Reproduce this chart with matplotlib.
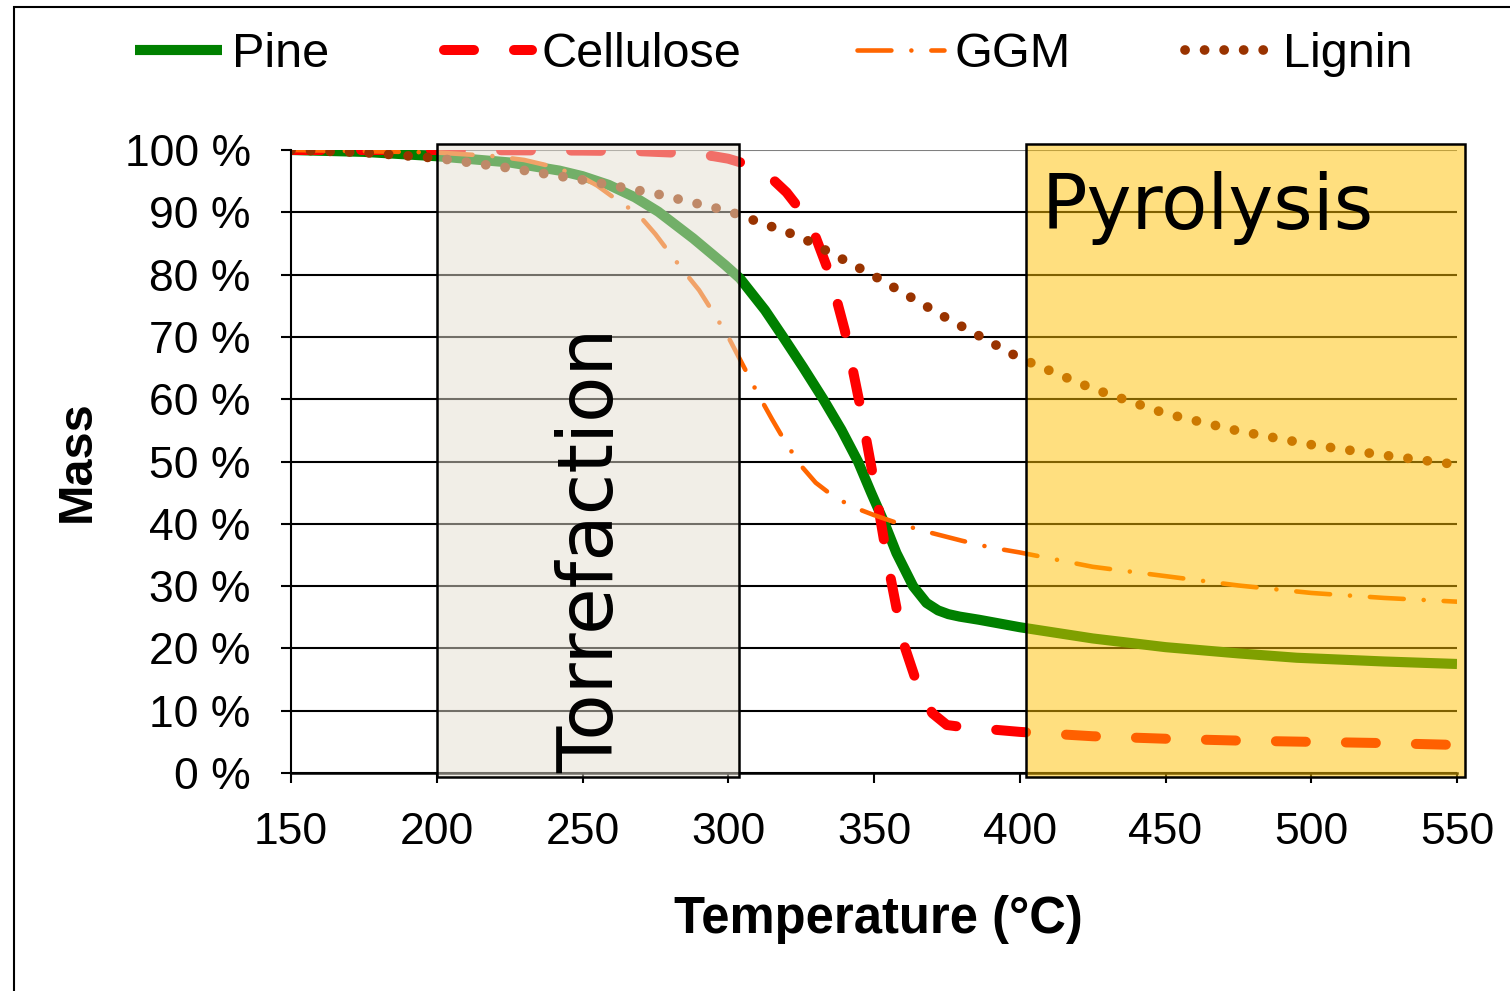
import matplotlib
matplotlib.use('Agg')
import matplotlib.pyplot as plt
from matplotlib.patches import Rectangle

# mass loss curves (temperature in deg C, mass in %)
pine_t = [150, 175, 200, 225, 242, 250, 259, 268, 276, 288, 299, 304, 312.6, 318.8, 325.7, 332.6,
          338.8, 344.5, 349.1, 353.7, 357.7, 363.4, 368, 372, 375.5, 379.4, 386, 400, 425, 450, 475,
          495, 525, 550]
pine_m = [100, 99.7, 99.0, 98.0, 96.7, 95.8, 94.4, 92.4, 90.1, 85.8, 81.5, 79.4, 74.3, 70.0, 65.1, 60.0,
          55.1, 50.0, 44.9, 40.0, 35.3, 30.0, 27.3, 26.1, 25.5, 25.1, 24.6, 23.4, 21.6, 20.2, 19.2,
          18.5, 17.9, 17.5]

cell_t = [150, 200, 250, 270, 280, 290, 295, 300, 305, 310, 315, 320, 325, 330, 335, 340,
          345, 350, 355, 360, 365, 370, 375, 380, 390, 400, 425, 450, 475, 500, 525, 550]
cell_m = [100, 100, 99.9, 99.8, 99.6, 99.3, 99.0, 98.6, 97.9, 96.9, 95.4, 93.2, 90.2, 86.0, 79.8, 71.0,
          59.5, 46.8, 33.0, 21.0, 14.0, 9.6, 7.7, 7.4, 7.0, 6.6, 5.9, 5.5, 5.2, 5.0, 4.8, 4.5]

ggm_t = [150, 200, 220, 230, 240, 250, 255, 260, 265, 270, 275, 280, 285, 290, 295, 300, 305,
         310, 315, 320, 325, 330, 335, 340, 345, 350, 360, 370, 380, 390, 400, 425, 450, 475,
         500, 525, 550]
ggm_m = [100, 99.6, 99.0, 98.4, 97.3, 95.6, 94.3, 92.6, 91.0, 89.2, 86.5, 83.4, 80.4, 77.5, 73.8, 70.0, 65.5,
         61.0, 56.8, 52.8, 49.3, 46.6, 44.8, 43.4, 42.3, 41.4, 39.8, 38.5, 37.3, 36.2, 35.4, 33.1, 31.6, 30.1,
         28.9, 28.1, 27.5]

lig_t = [150, 175, 200, 225, 250, 275, 300, 325, 350, 375, 400, 425, 450, 475, 500, 525, 550]
lig_m = [100, 99.6, 98.7, 97.1, 95.2, 93.0, 90.2, 86.0, 79.8, 73.0, 66.6, 61.7, 57.7, 54.9, 52.7, 51.0, 49.5]

x_ticks = [150, 200, 250, 300, 350, 400, 450, 500, 550]
y_ticks = [0, 10, 20, 30, 40, 50, 60, 70, 80, 90, 100]
y_labels = [f'{v} %' for v in y_ticks]

# temperature windows
torr_range = (200.1, 303.6)
pyro_range = (402.0, 552.7)

W, H = 1510, 991
plt.rcParams['font.family'] = ['Liberation Sans', 'DejaVu Sans']

fig = plt.figure(figsize=(W / 100, H / 100), dpi=100)
ax = fig.add_axes([291 / W, 1 - 773 / H, (1457 - 291) / W, (773 - 150) / H])

# curves
l_pine, = ax.plot(pine_t, pine_m, color='#008000', lw=7.3, zorder=2,
                  solid_capstyle='butt', solid_joinstyle='round', label='Pine')
l_cell, = ax.plot(cell_t, cell_m, color='#FF0000', lw=7.2, zorder=2,
                  linestyle=(0, (3.0, 4.0)), dash_capstyle='round', label='Cellulose')
l_ggm, = ax.plot(ggm_t, ggm_m, color='#FF6600', lw=3.3, zorder=2,
                 linestyle=(0, (7.4, 4.35, 0.01, 4.35)), dash_capstyle='round', label='GGM')
l_lig, = ax.plot(lig_t, lig_m, color='#993300', lw=7.0, zorder=2,
                 linestyle=(0, (0.01, 2.0)), dash_capstyle='round', label='Lignin')

# shaded regions drawn on top of the curves
ax.add_patch(Rectangle((torr_range[0], -0.7), torr_range[1] - torr_range[0], 101.7,
                       facecolor=(229 / 255, 223 / 255, 209 / 255, 0.5), edgecolor='black',
                       lw=1.8, zorder=3, clip_on=False))
ax.add_patch(Rectangle((pyro_range[0], -0.7), pyro_range[1] - pyro_range[0], 101.7,
                       facecolor=(1, 192 / 255, 0, 0.5), edgecolor='black',
                       lw=1.8, zorder=3, clip_on=False))

ax.text((torr_range[0] + torr_range[1]) / 2 + 1.5, 35.8, 'Torrefaction', rotation=90,
        ha='center', va='center', fontsize=54.5, family='DejaVu Sans', zorder=4)
ax.text(407.5, 87.3, 'Pyrolysis', ha='left', va='baseline', fontsize=54.5,
        family='DejaVu Sans', zorder=4)

ax.set_xlim(150, 550)
ax.set_ylim(0, 100)
ax.set_xticks(x_ticks)
ax.set_yticks(y_ticks)
ax.set_yticklabels(y_labels)

ax.yaxis.grid(True, color='black', lw=1.5, zorder=0.5)
ax.set_axisbelow(True)
ax.get_ygridlines()[-1].set_color('#808080')

for s in ['top', 'right']:
    ax.spines[s].set_visible(False)
ax.spines['left'].set_linewidth(1.5)
ax.spines['bottom'].set_linewidth(1.8)

ax.tick_params(axis='x', direction='out', length=7, width=1.5, pad=21, labelsize=32)
ax.tick_params(axis='y', direction='out', length=7, width=1.5, pad=22, labelsize=32)

ax.set_xlabel('Temperature (°C)', fontsize=36.5, fontweight='bold')
ax.xaxis.label.set_va('center')
ax.xaxis.set_label_coords(0.5 + 4 / 1166, (773 - 919) / 623)
ax.set_ylabel('Mass', fontsize=35, fontweight='bold')
ax.yaxis.label.set_va('center')
ax.yaxis.set_label_coords((77 - 291) / 1166, 0.5)

fig.legend([l_pine, l_cell, l_ggm, l_lig], ['Pine', 'Cellulose', 'GGM', 'Lignin'],
           loc='center', bbox_to_anchor=(773.5 / W, 1 - 55 / H), ncol=4, frameon=False,
           fontsize=35, handlelength=1.8, handletextpad=0.2, columnspacing=2.37,
           borderaxespad=0, borderpad=0)

# outer chart border (cut off at right and bottom in the reference)
fig.patches.append(Rectangle((14 / W, -0.1), 1.2, 1.1 - 7 / H, transform=fig.transFigure,
                             fill=False, edgecolor='black', lw=1.5))

fig.savefig('out.png', dpi=100)
